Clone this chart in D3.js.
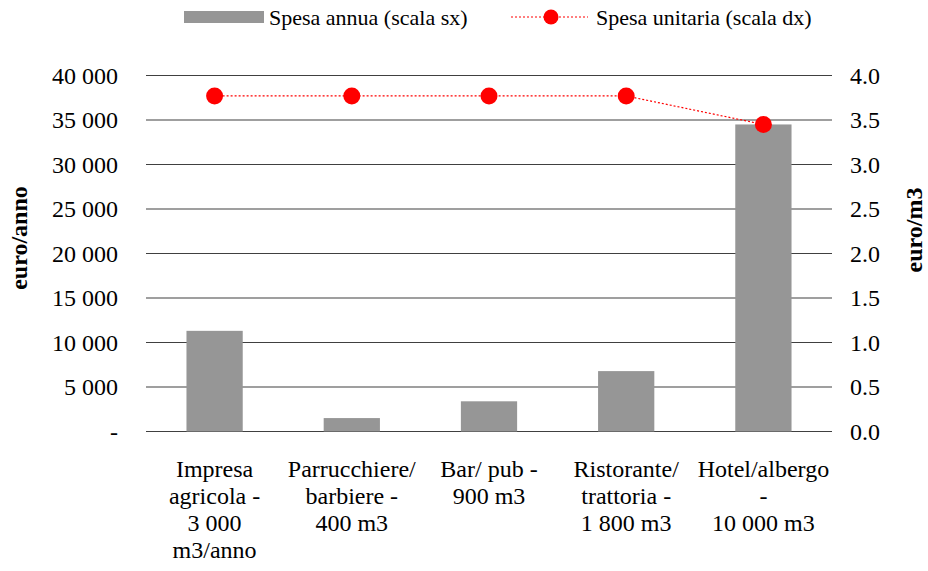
<!DOCTYPE html>
<html>
<head>
<meta charset="utf-8">
<script src="https://cdn.jsdelivr.net/npm/d3@7"></script>
<style>
  body { margin: 0; background: #fff; }
</style>
</head>
<body>
<div id="wrapper"></div>
<script>
const categories = [
  ["Impresa", "agricola -", "3 000", "m3/anno"],
  ["Parrucchiere/", "barbiere -", "400 m3"],
  ["Bar/ pub -", "900 m3"],
  ["Ristorante/", "trattoria -", "1 800 m3"],
  ["Hotel/albergo", "-", "10 000 m3"]
]
const spesaAnnua = [11310, 1508, 3393, 6786, 34500]
const spesaUnitaria = [3.77, 3.77, 3.77, 3.77, 3.45]
const leftTicks = [0, 5000, 10000, 15000, 20000, 25000, 30000, 35000, 40000]
const rightTicks = [0, 0.5, 1, 1.5, 2, 2.5, 3, 3.5, 4]

const FONT = "'Liberation Serif', 'Times New Roman', Times, serif"

function drawChart() {
  let dimensions = {
    width: 928,
    height: 571,
    margins: { top: 75.5, right: 96, bottom: 139.5, left: 146 }
  }
  dimensions.boundedWidth = dimensions.width - dimensions.margins.left - dimensions.margins.right
  dimensions.boundedHeight = dimensions.height - dimensions.margins.top - dimensions.margins.bottom

  const wrapper = d3.select("#wrapper")
    .append("svg")
      .attr("width", dimensions.width)
      .attr("height", dimensions.height)
      .attr("font-family", FONT)

  const bounds = wrapper.append("g")
    .attr("transform", `translate(${dimensions.margins.left},${dimensions.margins.top})`)

  const xScale = d3.scaleBand()
    .domain(d3.range(categories.length))
    .range([0, dimensions.boundedWidth])
    .paddingInner(0.59)
    .paddingOuter(0.295)

  const yLeft = d3.scaleLinear()
    .domain([0, 40000])
    .range([dimensions.boundedHeight, 0])

  const yRight = d3.scaleLinear()
    .domain([0, 4])
    .range([dimensions.boundedHeight, 0])

  // gridlines
  bounds.append("g")
    .selectAll("line")
    .data(leftTicks)
    .join("line")
      .attr("x1", 0)
      .attr("x2", dimensions.boundedWidth)
      .attr("y1", d => yLeft(d))
      .attr("y2", d => yLeft(d))
      .attr("stroke", "#404040")
      .attr("stroke-width", 1.2)

  // bars
  bounds.append("g")
    .selectAll("rect")
    .data(spesaAnnua)
    .join("rect")
      .attr("x", (d, i) => xScale(i))
      .attr("y", d => yLeft(d))
      .attr("width", xScale.bandwidth())
      .attr("height", d => dimensions.boundedHeight - yLeft(d))
      .attr("fill", "#969696")

  // line
  const cx = i => xScale(i) + xScale.bandwidth() / 2
  const lineGenerator = d3.line()
    .x((d, i) => cx(i))
    .y(d => yRight(d))

  bounds.append("path")
    .attr("d", lineGenerator(spesaUnitaria))
    .attr("fill", "none")
    .attr("stroke", "#ff0000")
    .attr("stroke-width", 1.2)
    .attr("stroke-dasharray", "2,2")

  bounds.append("g")
    .selectAll("circle")
    .data(spesaUnitaria)
    .join("circle")
      .attr("cx", (d, i) => cx(i))
      .attr("cy", d => yRight(d))
      .attr("r", 8.5)
      .attr("fill", "#ff0000")

  // axes
  const fmt = d => d === 0 ? "-" : d3.format(",")(d).replace(/,/g, " ")
  const yAxisLeft = bounds.append("g")
    .call(d3.axisLeft(yLeft).tickValues(leftTicks).tickFormat(fmt).tickSize(0).tickPadding(28))
    .attr("font-family", FONT)
    .attr("font-size", 24)
  yAxisLeft.select(".domain").remove()
  yAxisLeft.selectAll("text").attr("fill", "#000")

  const yAxisRight = bounds.append("g")
    .attr("transform", `translate(${dimensions.boundedWidth},0)`)
    .call(d3.axisRight(yRight).tickValues(rightTicks).tickFormat(d3.format(".1f")).tickSize(0).tickPadding(18))
    .attr("font-family", FONT)
    .attr("font-size", 24)
  yAxisRight.select(".domain").remove()
  yAxisRight.selectAll("text").attr("fill", "#000")

  // x labels
  const xLabels = bounds.append("g")
    .attr("transform", `translate(0,${dimensions.boundedHeight})`)
  categories.forEach((lines, i) => {
    const t = xLabels.append("text")
      .attr("text-anchor", "middle")
      .attr("font-size", 24)
      .attr("x", cx(i))
    lines.forEach((l, j) => {
      t.append("tspan")
        .attr("x", cx(i))
        .attr("y", 45.5 + j * 27)
        .text(l)
    })
  })

  // axis titles
  wrapper.append("text")
    .attr("transform", `translate(27,238) rotate(-90)`)
    .attr("text-anchor", "middle")
    .attr("font-size", 24)
    .attr("font-weight", "bold")
    .text("euro/anno")

  wrapper.append("text")
    .attr("transform", `translate(922,230) rotate(-90)`)
    .attr("text-anchor", "middle")
    .attr("font-size", 24)
    .attr("font-weight", "bold")
    .text("euro/m3")

  // legend
  const legend = wrapper.append("g")
  legend.append("rect")
    .attr("x", 184).attr("y", 11)
    .attr("width", 80).attr("height", 12)
    .attr("fill", "#969696")
  legend.append("text")
    .attr("x", 269).attr("y", 25)
    .attr("font-size", 22)
    .text("Spesa annua (scala sx)")
  legend.append("line")
    .attr("x1", 511).attr("x2", 588)
    .attr("y1", 17).attr("y2", 17)
    .attr("stroke", "#ff0000")
    .attr("stroke-width", 1.2)
    .attr("stroke-dasharray", "2,2")
  legend.append("circle")
    .attr("cx", 551).attr("cy", 17).attr("r", 7.5)
    .attr("fill", "#ff0000")
  legend.append("text")
    .attr("x", 596).attr("y", 25)
    .attr("font-size", 22)
    .text("Spesa unitaria (scala dx)")
}

drawChart()
</script>
</body>
</html>
